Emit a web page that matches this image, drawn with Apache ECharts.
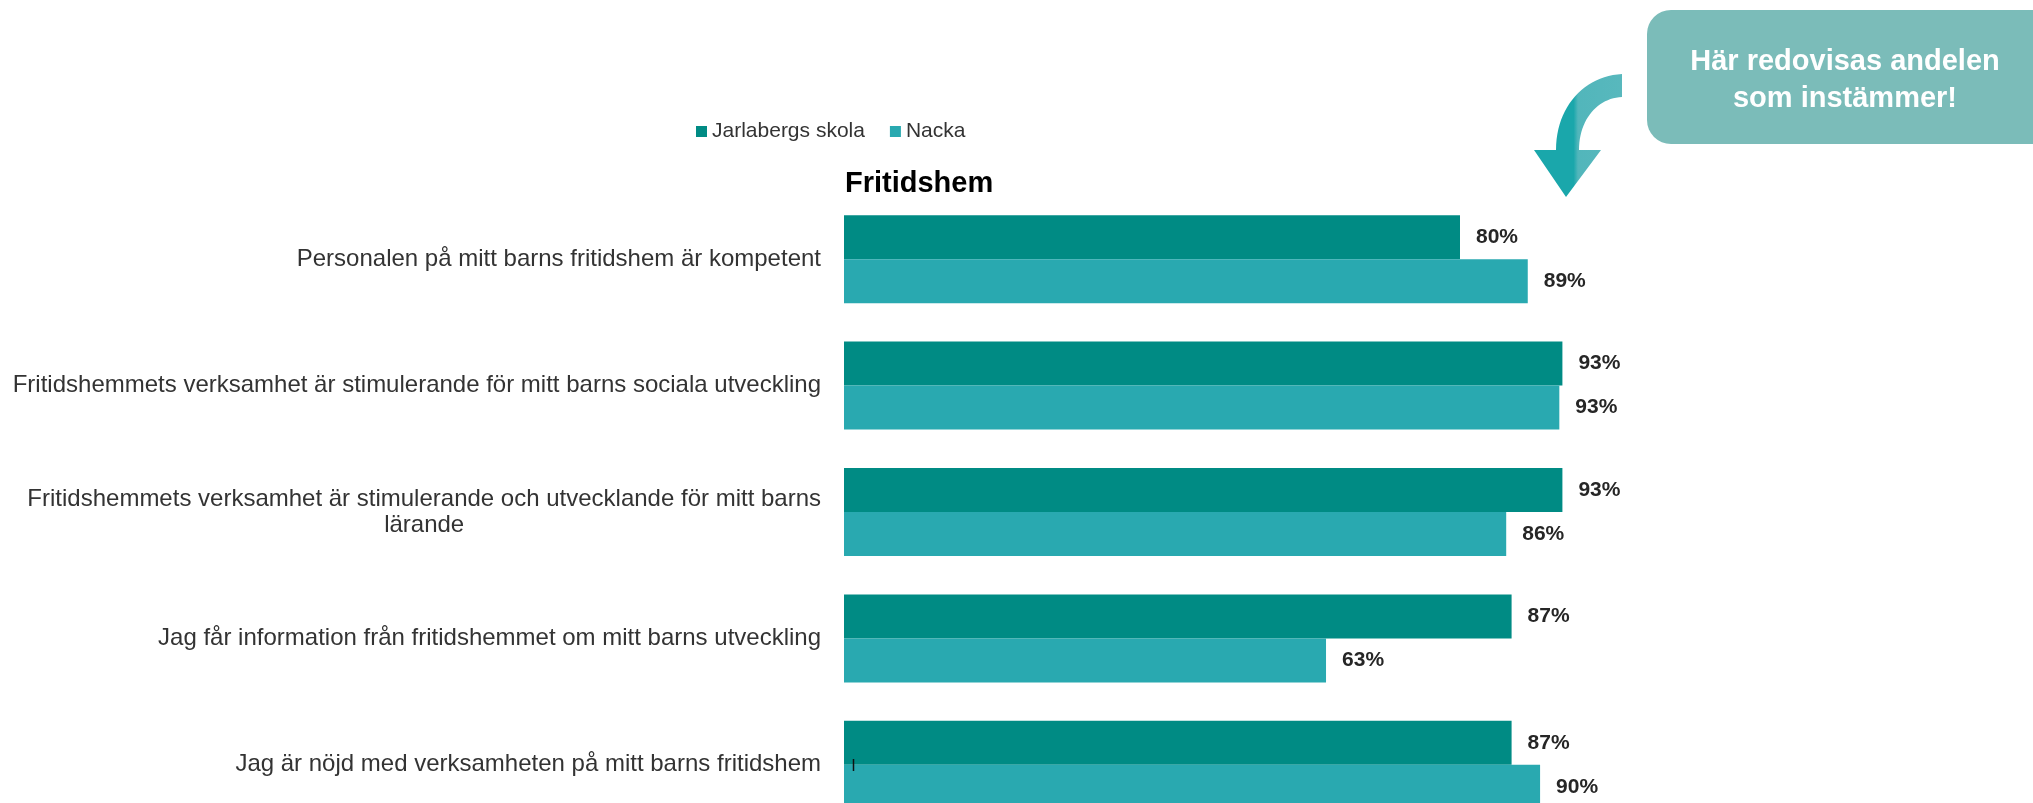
<!DOCTYPE html>
<html>
<head>
<meta charset="utf-8">
<script src="https://cdn.jsdelivr.net/npm/echarts@6/dist/echarts.min.js"></script>
<style>
html,body{margin:0;padding:0;background:#fff;}
#chart{width:2033px;height:803px;}
</style>
</head>
<body>
<div id="chart"></div>
<script>
// ---- data ----
const categories = [
  'Personalen på mitt barns fritidshem är kompetent',
  'Fritidshemmets verksamhet är stimulerande för mitt barns sociala utveckling',
  'Fritidshemmets verksamhet är stimulerande och utvecklande för mitt barns\nlärande',
  'Jag får information från fritidshemmet om mitt barns utveckling',
  'Jag är nöjd med verksamheten på mitt barns fritidshem'
];
const seriesNames = ['Jarlabergs skola', 'Nacka'];
const jarlabergs = [80.0, 93.3, 93.3, 86.7, 86.7];
const nacka = [88.8, 92.9, 86.0, 62.6, 90.4];
const chartTitle = 'Fritidshem';
const calloutLines = ['Här redovisas andelen', 'som instämmer!'];

const FONT = '"Liberation Sans", Arial, sans-serif';
const chart = echarts.init(document.getElementById('chart'), null, {renderer: 'canvas'});

// decorative curved arrow outline (sampled cubic curves)
function cubic(p0, p1, p2, p3, n) {
  const pts = [];
  for (let i = 0; i <= n; i++) {
    const t = i / n, u = 1 - t;
    pts.push([
      u*u*u*p0[0] + 3*u*u*t*p1[0] + 3*u*t*t*p2[0] + t*t*t*p3[0],
      u*u*u*p0[1] + 3*u*u*t*p1[1] + 3*u*t*t*p2[1] + t*t*t*p3[1]
    ]);
  }
  return pts;
}
const arrowPts = [].concat(
  cubic([1622, 74], [1585, 76], [1556, 106], [1556, 150], 24),
  [[1534, 150], [1566, 197], [1601, 150]],
  cubic([1579, 150], [1579, 119], [1598, 98], [1622, 97], 24)
);

const valueLabel = {
  show: true,
  position: 'right',
  distance: 16,
  formatter: p => Math.round(p.value) + '%',
  fontFamily: FONT,
  fontSize: 21,
  fontWeight: 'bold',
  color: '#262626'
};

chart.setOption({
  animation: false,
  backgroundColor: '#ffffff',
  textStyle: {fontFamily: FONT},
  title: {
    text: chartTitle,
    left: 845,
    top: 169,
    padding: 0,
    textStyle: {fontFamily: FONT, fontSize: 29, fontWeight: 'bold', color: '#000000'}
  },
  legend: {
    data: seriesNames,
    left: 696,
    top: 121,
    padding: 0,
    icon: 'rect',
    itemWidth: 11,
    itemHeight: 11,
    itemGap: 25,
    textStyle: {fontFamily: FONT, fontSize: 21, color: '#333333'}
  },
  grid: {left: 844, top: 196, width: 770, height: 632, containLabel: false, outerBoundsMode: 'none'},
  xAxis: {
    type: 'value',
    min: 0,
    max: 100,
    show: false
  },
  yAxis: {
    type: 'category',
    data: categories,
    inverse: true,
    axisLine: {show: false},
    axisTick: {show: false},
    splitLine: {show: false},
    axisLabel: {
      margin: 23,
      align: 'right',
      color: '#333333',
      fontFamily: FONT,
      fontSize: 24,
      lineHeight: 26,
      formatter: v => v.split('\n').map(s => '{c|' + s + '}').join('\n'),
      rich: {
        c: {align: 'center', fontFamily: FONT, fontSize: 24, lineHeight: 26, color: '#333333'}
      }
    }
  },
  series: [
    {
      name: seriesNames[0],
      type: 'bar',
      data: jarlabergs,
      barGap: '0%',
      barCategoryGap: '30.4%',
      itemStyle: {color: '#008b84'},
      label: valueLabel
    },
    {
      name: seriesNames[1],
      type: 'bar',
      data: nacka,
      barGap: '0%',
      barCategoryGap: '30.4%',
      itemStyle: {color: '#29a9b0'},
      label: valueLabel
    }
  ],
  graphic: [
    {
      type: 'rect',
      shape: {x: 1647, y: 10, width: 420, height: 134, r: 24},
      style: {fill: '#7bbcb9'}
    },
    {
      type: 'text',
      style: {
        x: 1845, y: 62,
        text: calloutLines[0],
        fill: '#ffffff',
        font: 'bold 29px ' + FONT,
        textAlign: 'center',
        textVerticalAlign: 'middle'
      }
    },
    {
      type: 'text',
      style: {
        x: 1845, y: 99,
        text: calloutLines[1],
        fill: '#ffffff',
        font: 'bold 29px ' + FONT,
        textAlign: 'center',
        textVerticalAlign: 'middle'
      }
    },
    {
      type: 'polygon',
      shape: {points: arrowPts},
      style: {
        fill: {
          type: 'linear', x: 0, y: 0, x2: 1, y2: 0,
          colorStops: [
            {offset: 0, color: '#1aa7ab'},
            {offset: 0.45, color: '#1aa7ab'},
            {offset: 0.5, color: '#52b6bb'},
            {offset: 1, color: '#58b8bd'}
          ]
        }
      }
    },
    {
      type: 'line',
      z: 100,
      shape: {x1: 853.5, y1: 759, x2: 853.5, y2: 771},
      style: {stroke: '#111111', lineWidth: 1.5}
    }
  ]
});
</script>
</body>
</html>
